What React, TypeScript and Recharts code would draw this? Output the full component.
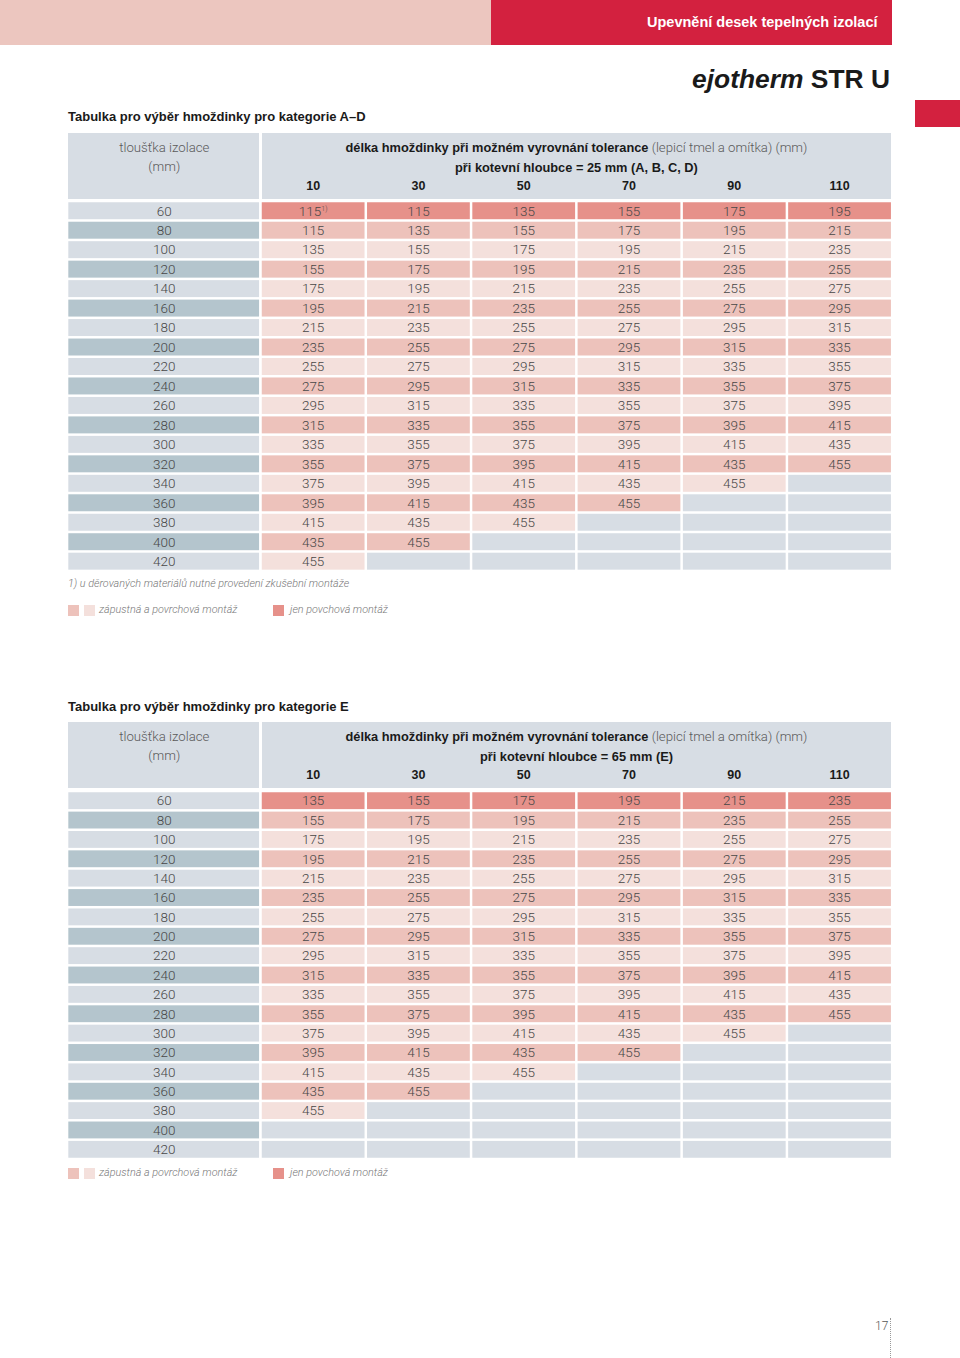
import React from "react";
import { ScatterChart, Scatter, XAxis, YAxis } from "recharts";

// ---------- data ----------
const COLUMNS = ["10", "30", "50", "70", "90", "110"];
const ROWS = ["60", "80", "100", "120", "140", "160", "180", "200", "220", "240", "260", "280", "300", "320", "340", "360", "380", "400", "420"];

const VALUES_AD: (number | null)[][] = [
  [115, 115, 135, 155, 175, 195],
  [115, 135, 155, 175, 195, 215],
  [135, 155, 175, 195, 215, 235],
  [155, 175, 195, 215, 235, 255],
  [175, 195, 215, 235, 255, 275],
  [195, 215, 235, 255, 275, 295],
  [215, 235, 255, 275, 295, 315],
  [235, 255, 275, 295, 315, 335],
  [255, 275, 295, 315, 335, 355],
  [275, 295, 315, 335, 355, 375],
  [295, 315, 335, 355, 375, 395],
  [315, 335, 355, 375, 395, 415],
  [335, 355, 375, 395, 415, 435],
  [355, 375, 395, 415, 435, 455],
  [375, 395, 415, 435, 455, null],
  [395, 415, 435, 455, null, null],
  [415, 435, 455, null, null, null],
  [435, 455, null, null, null, null],
  [455, null, null, null, null, null],
];

const VALUES_E: (number | null)[][] = [
  [135, 155, 175, 195, 215, 235],
  [155, 175, 195, 215, 235, 255],
  [175, 195, 215, 235, 255, 275],
  [195, 215, 235, 255, 275, 295],
  [215, 235, 255, 275, 295, 315],
  [235, 255, 275, 295, 315, 335],
  [255, 275, 295, 315, 335, 355],
  [275, 295, 315, 335, 355, 375],
  [295, 315, 335, 355, 375, 395],
  [315, 335, 355, 375, 395, 415],
  [335, 355, 375, 395, 415, 435],
  [355, 375, 395, 415, 435, 455],
  [375, 395, 415, 435, 455, null],
  [395, 415, 435, 455, null, null],
  [415, 435, 455, null, null, null],
  [435, 455, null, null, null, null],
  [455, null, null, null, null, null],
  [null, null, null, null, null, null],
  [null, null, null, null, null, null],
];

const SURFACE_ONLY_ROWS = ["60"];
const FOOTNOTE_CELL_AD = { row: "60", col: "10", mark: "1)" };

// ---------- style ----------
const SALMON = "#e6918a";
const PINK_MID = "#edc2bb";
const PINK_LIGHT = "#f4e0dc";
const GRAY = "#d7dde4";
const LABEL_DARK = "#b4c5cd";
const RED = "#d3213f";
const BLUSH = "#ecc6bf";

const LIGHT_FONT = "Roboto, 'Liberation Sans', sans-serif";
const BOLD_FONT = "'Liberation Sans', Arial, sans-serif";
const VALUE_SIZE = 13.5;
const VALUE_COLOR = "#474747";

const CHART_W = 894;
const ML = 68;
const YW = 192.5;
const MR = 1.8;
const XH = 30;
const MT = 2;
const MB = 2;
const GAP = 2.5;
const PLOT_W = CHART_W - ML - YW - MR;
const BAND_W = PLOT_W / COLUMNS.length;

type TableProps = {
  values: (number | null)[][];
  plotTop: number;
  rowPitch: number;
  tickBaseline: number;
  footnote?: { row: string; col: string; mark: string };
};

function DataTable({ values, plotTop, rowPitch, tickBaseline, footnote }: TableProps) {
  const plotH = rowPitch * ROWS.length;
  const H = MT + XH + plotH + MB;
  const svgTop = plotTop - MT - XH;
  const bandH = plotH / ROWS.length;

  const points = ROWS.flatMap((row, ri) =>
    COLUMNS.map((col, ci) => ({ row, col, ri, ci, value: values[ri][ci] }))
  );

  const RowTick = (props: any) => {
    const { y, payload } = props;
    const idx = ROWS.indexOf(String(payload.value));
    const x0 = ML + 0.3;
    const x1 = ML + YW - GAP / 2 - 0.2;
    return (
      <g>
        <rect x={x0} y={y - bandH / 2 + GAP / 2} width={x1 - x0} height={bandH - GAP} fill={idx % 2 === 1 ? LABEL_DARK : GRAY} />
        <text x={(x0 + x1) / 2 + 0.5} y={y + 4.8} textAnchor="middle" fontFamily={LIGHT_FONT} fontWeight={300} fontSize={VALUE_SIZE} fill={VALUE_COLOR}>
          {payload.value}
        </text>
      </g>
    );
  };

  const ColTick = (props: any) => {
    const { x, payload } = props;
    return (
      <text x={x} y={tickBaseline - svgTop} textAnchor="middle" fontFamily={BOLD_FONT} fontWeight={700} fontSize={12.5} fill="#1a1a1a">
        {payload.value}
      </text>
    );
  };

  const CellShape = (props: any) => {
    const { cx, cy, payload } = props;
    const p = payload;
    let fill = GRAY;
    if (p.value != null) {
      if (SURFACE_ONLY_ROWS.includes(p.row)) fill = SALMON;
      else fill = p.ri % 2 === 1 ? PINK_MID : PINK_LIGHT;
    }
    const hasMark = footnote && footnote.row === p.row && footnote.col === p.col;
    return (
      <g>
        <rect x={cx - BAND_W / 2 + GAP / 2} y={cy - bandH / 2 + GAP / 2} width={BAND_W - GAP} height={bandH - GAP} fill={fill} />
        {p.value != null && (
          <text x={cx} y={cy + 4.8} textAnchor="middle" fontFamily={LIGHT_FONT} fontWeight={300} fontSize={VALUE_SIZE} fill={VALUE_COLOR}>
            {p.value}
            {hasMark && (
              <tspan fontSize={7} dy={-5}>{footnote!.mark}</tspan>
            )}
          </text>
        )}
      </g>
    );
  };

  return (
    <div style={{ position: "absolute", left: 0, top: svgTop }}>
      <ScatterChart width={CHART_W} height={H} margin={{ top: MT, right: MR, bottom: MB, left: ML }}>
        <XAxis
          type="category"
          dataKey="col"
          orientation="top"
          height={XH}
          allowDuplicatedCategory={false}
          axisLine={false}
          tickLine={false}
          interval={0}
          tick={<ColTick />}
        />
        <YAxis
          type="category"
          dataKey="row"
          width={YW}
          allowDuplicatedCategory={false}
          axisLine={false}
          tickLine={false}
          interval={0}
          reversed
          tick={<RowTick />}
        />
        <Scatter data={points} isAnimationActive={false} shape={<CellShape />} />
      </ScatterChart>
    </div>
  );
}

function Header({ top, depthLine }: { top: number; depthLine: string }) {
  const light: React.CSSProperties = { fontFamily: LIGHT_FONT, fontWeight: 300, color: "#5a5a5a" };
  const bold: React.CSSProperties = { fontFamily: BOLD_FONT, fontWeight: 700, color: "#1a1a1a" };
  return (
    <>
      <div style={{ position: "absolute", left: 68.3, top, width: 191, height: 66.5, background: GRAY }} />
      <div style={{ position: "absolute", left: 261.7, top, width: 629.5, height: 66.5, background: GRAY }} />
      <div style={{ position: "absolute", left: 68.8, width: 191, top: top + 5.5, textAlign: "center", fontSize: 13.2, lineHeight: "19px", ...light }}>
        tloušťka izolace<br />(mm)
      </div>
      <div style={{ position: "absolute", left: 261.7, width: 629.5, top: top + 5.5, textAlign: "center", fontSize: 12.8, lineHeight: "19px", whiteSpace: "nowrap" }}>
        <span style={bold}>délka hmoždinky při možném vyrovnání tolerance</span>
        <span style={{ ...light, fontSize: 13.2 }}> (lepicí tmel a omítka) (mm)</span>
        <br />
        <span style={bold}>{depthLine}</span>
      </div>
    </>
  );
}

function Legend({ top }: { top: number }) {
  const t: React.CSSProperties = { position: "absolute", fontFamily: LIGHT_FONT, fontWeight: 300, fontStyle: "italic", fontSize: 10.8, color: "#777", whiteSpace: "nowrap" };
  return (
    <>
      <div style={{ position: "absolute", left: 68, top: top - 5.5, width: 11, height: 11, background: PINK_MID }} />
      <div style={{ position: "absolute", left: 84, top: top - 5.5, width: 11, height: 11, background: PINK_LIGHT }} />
      <div style={{ ...t, left: 99, top: top - 7 }}>zápustná a povrchová montáž</div>
      <div style={{ position: "absolute", left: 273, top: top - 5.5, width: 11, height: 11, background: SALMON }} />
      <div style={{ ...t, left: 290, top: top - 7 }}>jen povchová montáž</div>
    </>
  );
}

export default function App() {
  const title: React.CSSProperties = { position: "absolute", left: 68, fontFamily: BOLD_FONT, fontWeight: 700, fontSize: 13, color: "#1a1a1a", whiteSpace: "nowrap" };
  return (
    <div style={{ position: "absolute", left: 0, top: 0, width: 960, height: 1358, background: "#fff", overflow: "hidden" }}>
      {/* top band */}
      <div style={{ position: "absolute", left: 0, top: 0, width: 491, height: 45.3, background: BLUSH }} />
      <div style={{ position: "absolute", left: 491, top: 0, width: 400.7, height: 45.3, background: RED }} />
      <div style={{ position: "absolute", right: 960 - 877.5, top: 14, fontFamily: BOLD_FONT, fontWeight: 700, fontSize: 14.5, color: "#fff", whiteSpace: "nowrap" }}>
        Upevnění desek tepelných izolací
      </div>
      <div style={{ position: "absolute", right: 960 - 890, top: 66, lineHeight: "26px", fontFamily: BOLD_FONT, fontWeight: 700, fontSize: 26.4, color: "#1a1a1a", whiteSpace: "nowrap" }}>
        <span style={{ fontStyle: "italic" }}>ejotherm</span> STR U
      </div>
      <div style={{ position: "absolute", left: 914.5, top: 100, width: 45.5, height: 27.3, background: RED }} />

      {/* table A-D */}
      <div style={{ ...title, top: 109 }}>Tabulka pro výběr hmoždinky pro kategorie A–D</div>
      <Header top={132.7} depthLine="při kotevní hloubce = 25 mm (A, B, C, D)" />
      <DataTable values={VALUES_AD} plotTop={201.1} rowPitch={19.47} tickBaseline={190.5} footnote={FOOTNOTE_CELL_AD} />
      <div style={{ position: "absolute", left: 68, top: 577, fontFamily: LIGHT_FONT, fontWeight: 300, fontStyle: "italic", fontSize: 10.8, color: "#777", whiteSpace: "nowrap" }}>
        1) u děrovaných materiálů nutné provedení zkušební montáže
      </div>
      <Legend top={610} />

      {/* table E */}
      <div style={{ ...title, top: 699 }}>Tabulka pro výběr hmoždinky pro kategorie E</div>
      <Header top={721.7} depthLine="při kotevní hloubce = 65 mm (E)" />
      <DataTable values={VALUES_E} plotTop={790.5} rowPitch={19.37} tickBaseline={779} />
      <Legend top={1173} />

      {/* page number */}
      <div style={{ position: "absolute", left: 875, top: 1319, fontFamily: LIGHT_FONT, fontWeight: 300, fontSize: 12, color: "#555" }}>17</div>
      <div style={{ position: "absolute", left: 890, top: 1318, width: 0, height: 40, borderLeft: "1px dotted #999" }} />
    </div>
  );
}
